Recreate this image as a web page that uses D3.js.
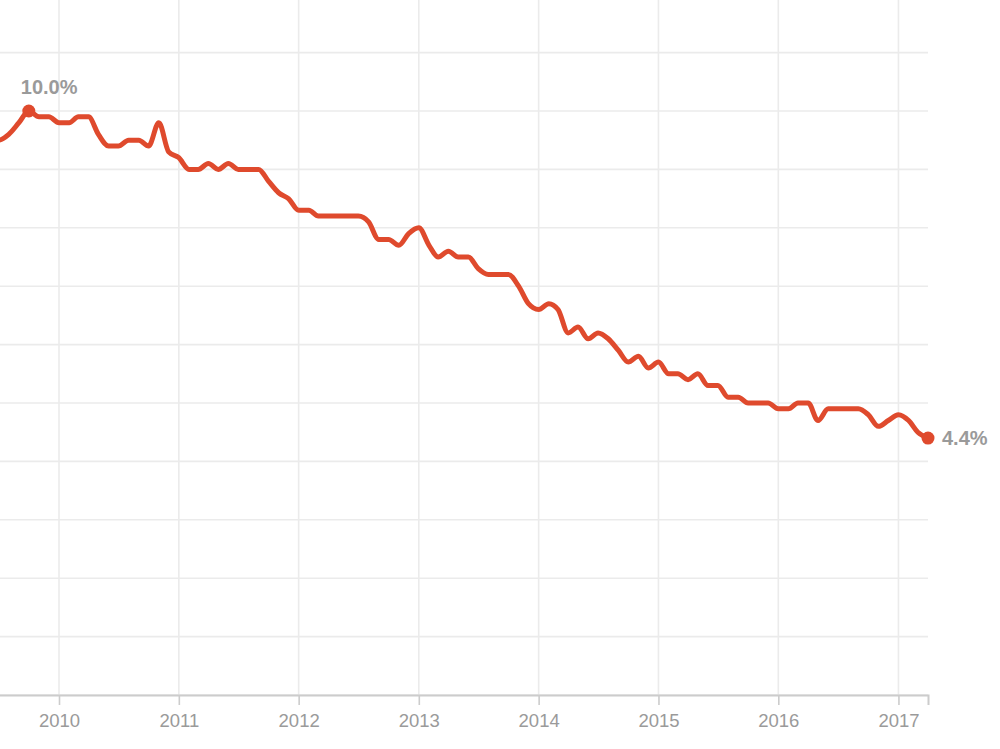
<!DOCTYPE html>
<html>
<head>
<meta charset="utf-8">
<script src="https://cdn.jsdelivr.net/npm/d3@7"></script>
<style>
  html, body { margin: 0; padding: 0; background: #fff; }
  svg { display: block; font-family: "Liberation Sans", Arial, Helvetica, sans-serif; }
</style>
</head>
<body>
<svg id="chart" width="1000" height="749"></svg>
<script>
// Monthly unemployment rate (%), Jun 2009 – Apr 2017
const startMonth = "2009-06";
const rates = [
  9.5, 9.5, 9.6, 9.8, 10.0, 9.9, 9.9,                 // 2009 Jun–Dec
  9.8, 9.8, 9.9, 9.9, 9.6, 9.4, 9.4, 9.5, 9.5, 9.4, 9.8, 9.3, // 2010
  9.2, 9.0, 9.0, 9.1, 9.0, 9.1, 9.0, 9.0, 9.0, 8.8, 8.6, 8.5, // 2011
  8.3, 8.3, 8.2, 8.2, 8.2, 8.2, 8.2, 8.1, 7.8, 7.8, 7.7, 7.9, // 2012
  8.0, 7.7, 7.5, 7.6, 7.5, 7.5, 7.3, 7.2, 7.2, 7.2, 7.0, 6.7, // 2013
  6.6, 6.7, 6.6, 6.2, 6.3, 6.1, 6.2, 6.1, 5.9, 5.7, 5.8, 5.6, // 2014
  5.7, 5.5, 5.5, 5.4, 5.5, 5.3, 5.3, 5.1, 5.1, 5.0, 5.0, 5.0, // 2015
  4.9, 4.9, 5.0, 5.0, 4.7, 4.9, 4.9, 4.9, 4.9, 4.8, 4.6, 4.7, // 2016
  4.8, 4.7, 4.5, 4.4                                   // 2017 Jan–Apr
];
const yearTicks = ["2010", "2011", "2012", "2013", "2014", "2015", "2016", "2017"];
const yTicks = [0, 1, 2, 3, 4, 5, 6, 7, 8, 9, 10, 11];
const highlight = [
  { month: "2009-10", label: "10.0%", pos: "above" },
  { month: "2017-04", label: "4.4%", pos: "right" }
];

const parse = d3.timeParse("%Y-%m");
const t0 = parse(startMonth);
const data = rates.map((v, i) => ({ date: d3.timeMonth.offset(t0, i), value: v }));

const svg = d3.select("#chart");

// Scale anchored so that Jan 2010 -> 59px and Apr 2017 -> 928px
const anchorA = parse("2010-01"), anchorB = parse("2017-04");
const x = d3.scaleTime().domain([anchorA, anchorB]).range([59, 928]);
const xStart = data[0].date, xEnd = data[data.length - 1].date;
const r0 = x(xStart), r1 = x(xEnd);
x.domain([xStart, xEnd]).range([r0, r1]);

const y = d3.scaleLinear().domain([0, 11]).range([695, 52.6]);
const baseY = y(0);
const rightX = x(xEnd);

// horizontal grid
svg.append("g")
  .selectAll("line")
  .data(yTicks)
  .join("line")
  .attr("x1", 0).attr("x2", rightX)
  .attr("y1", d => y(d)).attr("y2", d => y(d))
  .attr("stroke", "#ebebeb").attr("stroke-width", 1.6);

// vertical grid
const yearDates = yearTicks.map(s => d3.timeParse("%Y")(s));
svg.append("g")
  .selectAll("line")
  .data(yearDates)
  .join("line")
  .attr("x1", d => x(d)).attr("x2", d => x(d))
  .attr("y1", 0).attr("y2", baseY)
  .attr("stroke", "#ebebeb").attr("stroke-width", 1.6);

// x axis
const axis = d3.axisBottom(x)
  .tickValues(yearDates)
  .tickFormat(d3.timeFormat("%Y"))
  .tickSizeInner(10)
  .tickSizeOuter(10)
  .tickPadding(9);
const gx = svg.append("g").attr("transform", `translate(0,${baseY})`).call(axis);
gx.select(".domain").attr("stroke", "#cccccc").attr("stroke-width", 2);
gx.selectAll(".tick line").attr("stroke", "#cccccc").attr("stroke-width", 1.6);
gx.selectAll(".tick text")
  .attr("fill", "#9a9a9a")
  .style("font-size", "18.5px")
  .style("font-family", "'Liberation Sans', Arial, sans-serif");

// line
const line = d3.line()
  .x(d => x(d.date))
  .y(d => y(d.value))
  .curve(d3.curveMonotoneX);
svg.append("path")
  .datum(data)
  .attr("d", line)
  .attr("fill", "none")
  .attr("stroke", "#df4a2d")
  .attr("stroke-width", 5)
  .attr("stroke-linejoin", "round")
  .attr("stroke-linecap", "round");

// highlighted points
const hl = highlight.map(h => {
  const dt = parse(h.month);
  const pt = data.find(d => +d.date === +dt);
  return { ...h, date: dt, value: pt.value };
});
svg.append("g")
  .selectAll("circle")
  .data(hl)
  .join("circle")
  .attr("cx", d => x(d.date))
  .attr("cy", d => y(d.value))
  .attr("r", 6.5)
  .attr("fill", "#df4a2d");

svg.append("g")
  .selectAll("text")
  .data(hl)
  .join("text")
  .attr("x", d => d.pos === "above" ? x(d.date) - 8 : x(d.date) + 14)
  .attr("y", d => d.pos === "above" ? y(d.value) - 17 : y(d.value) + 7)
  .attr("fill", "#9a9a9a")
  .style("font-size", "20px")
  .style("font-weight", "bold")
  .text(d => d.label);
</script>
</body>
</html>
